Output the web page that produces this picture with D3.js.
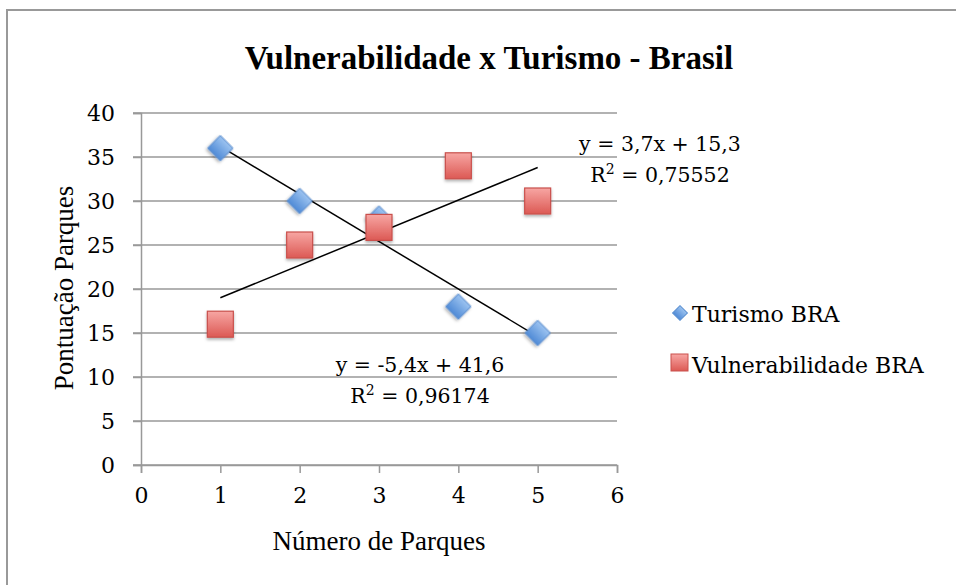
<!DOCTYPE html>
<html>
<head>
<meta charset="utf-8">
<script src="https://cdn.jsdelivr.net/npm/d3@7"></script>
<style>
  body { margin: 0; background: #fff; }
  svg { display: block; }
  .serif { font-family: "Liberation Serif", "Times New Roman", serif; }
  .tick-font { font-family: "DejaVu Serif", serif; }
</style>
</head>
<body>
<svg id="chart" width="956" height="585"></svg>
<script>
// dados
const parques = [1, 2, 3, 4, 5];
const turismo = [36, 30, 28, 18, 15];
const vulnerabilidade = [16, 25, 27, 34, 30];
const xTicks = [0, 1, 2, 3, 4, 5, 6];
const yTicks = [0, 5, 10, 15, 20, 25, 30, 35, 40];
const seriesNames = ['Turismo BRA', 'Vulnerabilidade BRA'];

const svg = d3.select('#chart');

// moldura externa
svg.append('rect')
    .attr('x', 7).attr('y', 10)
    .attr('width', 980).attr('height', 600)
    .attr('fill', 'none')
    .attr('stroke', '#999')
    .attr('stroke-width', 2);

const x = d3.scaleLinear().domain([0, 6]).range([141, 617]);
const y = d3.scaleLinear().domain([0, 40]).range([465, 113]);

const defs = svg.append('defs');
const gBlue = defs.append('linearGradient').attr('id', 'gBlue').attr('x1', 0).attr('y1', 0).attr('x2', 0).attr('y2', 1);
gBlue.append('stop').attr('offset', '0%').attr('stop-color', '#9cc3f0');
gBlue.append('stop').attr('offset', '100%').attr('stop-color', '#4f8ad6');
const gRed = defs.append('linearGradient').attr('id', 'gRed').attr('x1', 0).attr('y1', 0).attr('x2', 0).attr('y2', 1);
gRed.append('stop').attr('offset', '0%').attr('stop-color', '#f7a6a3');
gRed.append('stop').attr('offset', '100%').attr('stop-color', '#dc5954');
const shadow = defs.append('filter').attr('id', 'shadow').attr('x', '-50%').attr('y', '-50%').attr('width', '200%').attr('height', '200%');
shadow.append('feDropShadow').attr('dx', 0).attr('dy', 2).attr('stdDeviation', 1.5)
    .attr('flood-color', '#000').attr('flood-opacity', 0.3);

// título
svg.append('text')
    .attr('class', 'serif')
    .attr('x', 489).attr('y', 69)
    .attr('text-anchor', 'middle')
    .attr('font-size', 33).attr('font-weight', 'bold')
    .text('Vulnerabilidade x Turismo - Brasil');

// grade horizontal
svg.append('g').selectAll('line')
    .data(yTicks)
    .join('line')
    .attr('x1', 133).attr('x2', x(6))
    .attr('y1', d => y(d)).attr('y2', d => y(d))
    .attr('stroke', '#999').attr('stroke-width', 1.5);

// eixo y
const yAxis = svg.append('g')
    .attr('transform', `translate(${x(0)},0)`)
    .call(d3.axisLeft(y).tickValues(yTicks).tickSize(8).tickPadding(18));
yAxis.select('.domain').attr('stroke', '#999').attr('stroke-width', 1.5);
yAxis.selectAll('.tick line').attr('stroke', '#999').attr('stroke-width', 1.5);
yAxis.selectAll('.tick text')
    .attr('class', 'tick-font')
    .attr('font-size', 22).attr('fill', '#000')
    .attr('dy', '0.36em');

// eixo x
const xAxis = svg.append('g')
    .attr('transform', `translate(0,${y(0)})`)
    .call(d3.axisBottom(x).tickValues(xTicks).tickFormat(d3.format('d')).tickSize(8).tickPadding(14));
xAxis.select('.domain').attr('stroke', '#999').attr('stroke-width', 1.5);
xAxis.selectAll('.tick line').attr('stroke', '#999').attr('stroke-width', 1.5);
xAxis.selectAll('.tick text')
    .attr('class', 'tick-font')
    .attr('font-size', 22).attr('fill', '#000');

// títulos dos eixos
svg.append('text')
    .attr('class', 'serif')
    .attr('x', x(3)).attr('y', 550)
    .attr('text-anchor', 'middle')
    .attr('font-size', 27)
    .text('Número de Parques');
svg.append('text')
    .attr('class', 'serif')
    .attr('transform', 'translate(73,288) rotate(-90)')
    .attr('text-anchor', 'middle')
    .attr('font-size', 27)
    .text('Pontuação Parques');

// regressão linear
function fit(xs, ys) {
    const mx = d3.mean(xs), my = d3.mean(ys);
    const sxy = d3.sum(xs, (v, i) => (v - mx) * (ys[i] - my));
    const sxx = d3.sum(xs, v => (v - mx) ** 2);
    const syy = d3.sum(ys, v => (v - my) ** 2);
    const m = sxy / sxx;
    return { m, b: my - m * mx, r2: (sxy * sxy) / (sxx * syy) };
}
const fitT = fit(parques, turismo);
const fitV = fit(parques, vulnerabilidade);

const trend = svg.append('g');
[fitT, fitV].forEach(f => {
    const x0 = d3.min(parques), x1 = d3.max(parques);
    trend.append('line')
        .attr('x1', x(x0)).attr('y1', y(f.m * x0 + f.b))
        .attr('x2', x(x1)).attr('y2', y(f.m * x1 + f.b))
        .attr('stroke', '#000').attr('stroke-width', 1.5);
});

// marcadores
const diamond = d3.symbol().type(d3.symbolSquare).size(320);
svg.append('g').selectAll('path')
    .data(parques.map((p, i) => [p, turismo[i]]))
    .join('path')
    .attr('d', diamond)
    .attr('transform', d => `translate(${x(d[0])},${y(d[1])}) rotate(45)`)
    .attr('fill', 'url(#gBlue)')
    .attr('stroke', '#5b8fd0').attr('stroke-width', 1)
    .attr('filter', 'url(#shadow)');

svg.append('g').selectAll('rect')
    .data(parques.map((p, i) => [p, vulnerabilidade[i]]))
    .join('rect')
    .attr('x', d => x(d[0]) - 13).attr('y', d => y(d[1]) - 13)
    .attr('width', 26).attr('height', 26)
    .attr('fill', 'url(#gRed)')
    .attr('stroke', '#c9504c').attr('stroke-width', 1.2)
    .attr('filter', 'url(#shadow)');

// equações
const fmt = v => d3.format('.1f')(v).replace('.', ',').replace('\u2212', '-');
function eqLabel(f, cx, by) {
    const sign = f.b >= 0 ? '+' : '-';
    svg.append('text')
        .attr('class', 'tick-font')
        .attr('x', cx).attr('y', by)
        .attr('text-anchor', 'middle').attr('font-size', 20.5)
        .text(`y = ${fmt(f.m)}x ${sign} ${fmt(Math.abs(f.b))}`);
    const t = svg.append('text')
        .attr('class', 'tick-font')
        .attr('x', cx).attr('y', by + 31)
        .attr('text-anchor', 'middle').attr('font-size', 20.5);
    t.append('tspan').text('R');
    t.append('tspan').attr('dy', -8).attr('font-size', 14).text('2');
    t.append('tspan').attr('dy', 8).text(' = ' + d3.format('.5f')(f.r2).replace('.', ','));
}
eqLabel(fitV, 660, 151);
eqLabel(fitT, 420, 372);

// legenda
const legend = svg.append('g');
legend.append('path')
    .attr('d', d3.symbol().type(d3.symbolSquare).size(110))
    .attr('transform', 'translate(680,313) rotate(45)')
    .attr('fill', 'url(#gBlue)').attr('stroke', '#5b8fd0');
legend.append('rect')
    .attr('x', 671).attr('y', 354).attr('width', 17).attr('height', 17)
    .attr('fill', 'url(#gRed)').attr('stroke', '#c9504c');
seriesNames.forEach((name, i) => {
    legend.append('text')
        .attr('class', 'tick-font')
        .attr('x', 692).attr('y', 322 + i * 51)
        .attr('font-size', 22)
        .text(name);
});
</script>
</body>
</html>
